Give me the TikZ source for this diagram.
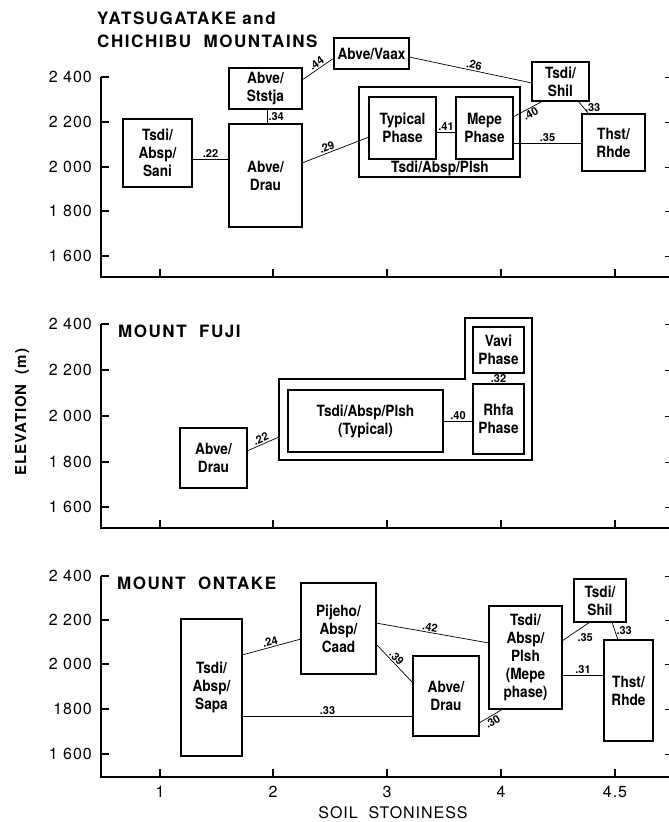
\documentclass[tikz,border=0pt]{standalone}
\usepackage{fontspec}
\setmainfont{TeX Gyre Heros}
\newfontfamily\unitfont[FakeStretch=0.88]{TeX Gyre Heros}
\newfontfamily\headfont[LetterSpace=9]{TeX Gyre Heros}
\newfontfamily\axisfont[LetterSpace=6]{TeX Gyre Heros}
\usetikzlibrary{positioning,calc}

\tikzset{
  unit/.style={draw, line width=1.1pt, inner sep=0pt, outer sep=0pt, align=center,
    font=\unitfont\bfseries\fontsize{15.5}{18}\selectfont},
  link/.style={line width=0.7pt},
  corr/.style={font=\bfseries\fontsize{11}{11}\selectfont, inner sep=1.2pt},
  axisline/.style={line width=1.4pt},
  heading/.style={font=\headfont\bfseries\fontsize{17}{21}\selectfont, anchor=base west, inner sep=0pt},
  ticklab/.style={font=\axisfont\fontsize{16}{16}\selectfont, inner sep=0pt},
}

\begin{document}
\begin{tikzpicture}[x=1pt,y=-1pt]
  \useasboundingbox (0,0) rectangle (669,822);

  % axes, three panels
  \draw[axisline] (101,77) -- (101,277) -- (669,277);
  \foreach \y/\lab in {77/2 400,122/2 200,167/2 000,211/1 800,256/1 600} {
    \draw[axisline] (101,\y) -- (109,\y);
    \draw (665,\y) -- (669,\y);
    \node[ticklab, anchor=east] (ya\y) at (92,\y) {\lab};
  }
  \draw[axisline] (101,324) -- (101,528) -- (669,528);
  \foreach \y/\lab in {324/2 400,370/2 200,416/2 000,462/1 800,507/1 600} {
    \draw[axisline] (101,\y) -- (109,\y);
    \draw (665,\y) -- (669,\y);
    \node[ticklab, anchor=east] (yb\y) at (92,\y) {\lab};
  }
  \draw[axisline] (101,576) -- (101,777) -- (669,777);
  \foreach \y/\lab in {576/2 400,620/2 200,664/2 000,709/1800,754/1 600} {
    \draw[axisline] (101,\y) -- (109,\y);
    \draw (665,\y) -- (669,\y);
    \node[ticklab, anchor=east] (yc\y) at (92,\y) {\lab};
  }
  \foreach \x/\lab in {160/1,273/2,387/3,501/4,615/4.5} {
    \draw[axisline] (\x,277) -- (\x,269);
    \draw[axisline] (\x,528) -- (\x,520);
    \draw[axisline] (\x,777) -- (\x,769);
    \node[ticklab] (xt\x) at (\x,792) {\lab};
  }
  \node[ticklab, font=\axisfont\bfseries\fontsize{15}{15}\selectfont, rotate=90] (ylab) at (22,412) {ELEVATION\ \ (m)};
  \node[ticklab] (xlab) at (393,813) {SOIL\ \ STONINESS};

  % Yatsugatake and Chichibu
  \node[heading] (head1) at (97,24) {YATSUGATAKE and};
  \node[heading] (head2) at (97,47) {CHICHIBU\ \ MOUNTAINS};
  \node[unit, minimum width=69pt, minimum height=68pt] (sani) at (157.5,153) {Tsdi/\\Absp/\\Sani};
  \node[unit, minimum width=73pt, minimum height=41pt] (ststja) at (265.5,88.5) {Abve/\\Ststja};
  \node[unit, minimum width=73pt, minimum height=103pt] (drauA) at (265.5,175.5) {Abve/\\Drau};
  \node[unit, minimum width=75pt, minimum height=31pt] (vaax) at (371.5,53.5) {Abve/Vaax};
  \node[unit, minimum width=161pt, minimum height=90pt] (plshA) at (439.5,132) {};
  \node[unit, draw=none] (plshAlab) at (440,168) {Tsdi/Absp/Plsh};
  \node[unit, minimum width=67pt, minimum height=62pt] (typical) at (402.5,128) {Typical\\Phase};
  \node[unit, minimum width=57pt, minimum height=62pt] (mepe) at (484.5,128) {Mepe\\Phase};
  \node[unit, minimum width=57pt, minimum height=39pt] (shilA) at (560.5,81.5) {Tsdi/\\Shil};
  \node[unit, minimum width=63pt, minimum height=57pt] (rhdeA) at (613.5,142.5) {Thst/\\Rhde};

  \draw[link] (sani.east |- 0,159) -- node[corr, above] {.22} (drauA.west |- 0,159);
  \draw[link] (ststja.south -| 267,0) -- node[corr, right] {.34} (drauA.north -| 267,0);
  \draw[link] (ststja.east |- 0,80) -- node[corr, sloped, above, pos=0.55] {.44} (vaax.west |- 0,58);
  \draw[link] (drauA.east |- 0,163) -- node[corr, sloped, above, pos=0.4] {.29} (typical.west |- 0,137);
  \draw[link] (typical.east |- 0,132) -- node[corr, above] {.41} (mepe.west |- 0,132);
  \draw[link] (vaax.east |- 0,57) -- node[corr, sloped, above, pos=0.52] {.26} (shilA.west |- 0,83);
  \draw[link] (mepe.east |- 0,117) -- node[corr, sloped, below] {.40} (shilA.south -| 543,0);
  \draw[link] (shilA.south -| 578,0) -- node[corr, right] {.33} (rhdeA.north -| 589,0);
  \draw[link] (mepe.east |- 0,143) -- node[corr, above] {.35} (rhdeA.west |- 0,143);

  % Mount Fuji
  \node[heading] (head3) at (118,337) {MOUNT\ \ FUJI};
  \draw[line width=1.1pt] (279,379) -- (465,379) -- (465,318) -- (532,318) -- (532,460) -- (279,460) -- cycle;
  \coordinate (fujiwrap) at (279,437);
  \node[unit, minimum width=67pt, minimum height=60pt] (drauB) at (213.5,458) {Abve/\\Drau};
  \node[unit, minimum width=155pt, minimum height=62pt] (typicalB) at (365.5,421) {Tsdi/Absp/Plsh\\(Typical)};
  \node[unit, minimum width=51pt, minimum height=46pt] (vavi) at (498.5,350) {Vavi\\Phase};
  \node[unit, minimum width=51pt, minimum height=70pt] (rhfa) at (498.5,419) {Rhfa\\Phase};

  \draw[link] (drauB.east |- 0,451) -- node[corr, sloped, above] {.22} (fujiwrap);
  \draw[link] (typicalB.east |- 0,421) -- node[corr, above] {.40} (rhfa.west |- 0,421);
  \path (vavi.south) -- node[corr] {.32} (rhfa.north);

  % Mount Ontake
  \node[heading] (head4) at (117,589) {MOUNT\ \ ONTAKE};
  \node[unit, minimum width=61pt, minimum height=137pt] (sapa) at (211.5,687.5) {Tsdi/\\Absp/\\Sapa};
  \node[unit, minimum width=75pt, minimum height=91pt] (pijeho) at (338.5,628.5) {Pijeho/\\Absp/\\Caad};
  \node[unit, minimum width=66pt, minimum height=80pt] (drauC) at (446,696) {Abve/\\Drau};
  \node[unit, minimum width=73pt, minimum height=103pt] (plshC) at (525.5,657.5) {Tsdi/\\Absp/\\Plsh\\(Mepe\\phase)};
  \node[unit, minimum width=52pt, minimum height=43pt] (shilC) at (600,600.5) {Tsdi/\\Shil};
  \node[unit, minimum width=49pt, minimum height=101pt] (rhdeC) at (628.5,690.5) {Thst/\\Rhde};

  \draw[link] (sapa.east |- 0,655) -- node[corr, sloped, above] {.24} (pijeho.west |- 0,639);
  \draw[link] (sapa.east |- 0,716) -- node[corr, above] {.33} (drauC.west |- 0,716);
  \draw[link] (pijeho.east |- 0,644) -- node[corr, sloped, above, pos=0.45] {.39} (drauC.west |- 0,683);
  \draw[link] (pijeho.east |- 0,623) -- node[corr, sloped, above, pos=0.47] {.42} (plshC.west |- 0,643);
  \draw[link] (drauC.east |- 0,723) -- node[corr, sloped, below, pos=0.45] {.30} (plshC.south -| 503,0);
  \draw[link] (plshC.east |- 0,641) -- node[corr, below right] {.35} (shilC.south -| 590,0);
  \draw[link] (shilC.south -| 612,0) -- node[corr, right] {.33} (rhdeC.north -| 618,0);
  \draw[link] (plshC.east |- 0,675) -- node[corr, above] {.31} (rhdeC.west |- 0,675);
\end{tikzpicture}
\end{document}
